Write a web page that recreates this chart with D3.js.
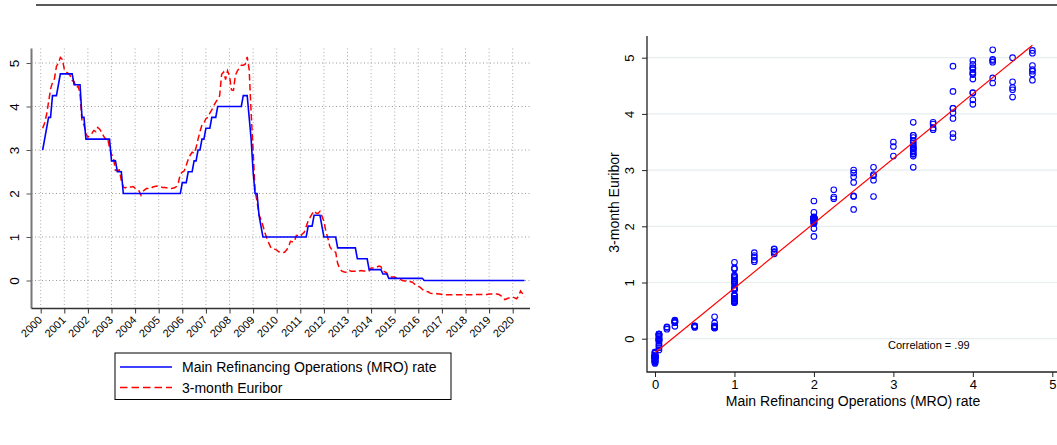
<!DOCTYPE html>
<html>
<head>
<meta charset="utf-8">
<script src="https://cdn.jsdelivr.net/npm/d3@7"></script>
<style>
  body { margin: 0; background: #fff; }
  svg { font-family: "Liberation Sans", Arial, sans-serif; }
</style>
</head>
<body>
<script>
// monthly, end of month, 2000m1 .. 2020m6
var startYear = 2000;

var mro = [
  3.00, 3.25, 3.50, 3.75, 3.75, 4.25, 4.25, 4.25, 4.50, 4.75, 4.75, 4.75, // 2000
  4.75, 4.75, 4.75, 4.75, 4.50, 4.50, 4.50, 4.50, 3.75, 3.75, 3.25, 3.25, // 2001
  3.25, 3.25, 3.25, 3.25, 3.25, 3.25, 3.25, 3.25, 3.25, 3.25, 3.25, 2.75, // 2002
  2.75, 2.75, 2.50, 2.50, 2.50, 2.00, 2.00, 2.00, 2.00, 2.00, 2.00, 2.00, // 2003
  2.00, 2.00, 2.00, 2.00, 2.00, 2.00, 2.00, 2.00, 2.00, 2.00, 2.00, 2.00, // 2004
  2.00, 2.00, 2.00, 2.00, 2.00, 2.00, 2.00, 2.00, 2.00, 2.00, 2.00, 2.25, // 2005
  2.25, 2.25, 2.50, 2.50, 2.50, 2.75, 2.75, 3.00, 3.00, 3.25, 3.25, 3.50, // 2006
  3.50, 3.50, 3.75, 3.75, 3.75, 4.00, 4.00, 4.00, 4.00, 4.00, 4.00, 4.00, // 2007
  4.00, 4.00, 4.00, 4.00, 4.00, 4.00, 4.25, 4.25, 4.25, 3.75, 3.25, 2.50, // 2008
  2.00, 2.00, 1.50, 1.25, 1.00, 1.00, 1.00, 1.00, 1.00, 1.00, 1.00, 1.00, // 2009
  1.00, 1.00, 1.00, 1.00, 1.00, 1.00, 1.00, 1.00, 1.00, 1.00, 1.00, 1.00, // 2010
  1.00, 1.00, 1.00, 1.25, 1.25, 1.25, 1.50, 1.50, 1.50, 1.50, 1.25, 1.00, // 2011
  1.00, 1.00, 1.00, 1.00, 1.00, 1.00, 0.75, 0.75, 0.75, 0.75, 0.75, 0.75, // 2012
  0.75, 0.75, 0.75, 0.75, 0.50, 0.50, 0.50, 0.50, 0.50, 0.50, 0.25, 0.25, // 2013
  0.25, 0.25, 0.25, 0.25, 0.25, 0.15, 0.15, 0.15, 0.05, 0.05, 0.05, 0.05, // 2014
  0.05, 0.05, 0.05, 0.05, 0.05, 0.05, 0.05, 0.05, 0.05, 0.05, 0.05, 0.05, // 2015
  0.05, 0.05, 0.00, 0.00, 0.00, 0.00, 0.00, 0.00, 0.00, 0.00, 0.00, 0.00, // 2016
  0.00, 0.00, 0.00, 0.00, 0.00, 0.00, 0.00, 0.00, 0.00, 0.00, 0.00, 0.00, // 2017
  0.00, 0.00, 0.00, 0.00, 0.00, 0.00, 0.00, 0.00, 0.00, 0.00, 0.00, 0.00, // 2018
  0.00, 0.00, 0.00, 0.00, 0.00, 0.00, 0.00, 0.00, 0.00, 0.00, 0.00, 0.00, // 2019
  0.00, 0.00, 0.00, 0.00, 0.00, 0.00                                      // 2020
];

var euribor = [
  3.50, 3.62, 3.82, 4.10, 4.40, 4.55, 4.64, 4.92, 5.00, 5.13, 5.08, 4.86, // 2000
  4.79, 4.76, 4.71, 4.60, 4.57, 4.43, 4.47, 4.30, 3.65, 3.58, 3.38, 3.29, // 2001
  3.35, 3.38, 3.45, 3.42, 3.52, 3.48, 3.40, 3.32, 3.25, 3.28, 3.05, 2.90, // 2002
  2.82, 2.53, 2.53, 2.54, 2.30, 2.15, 2.13, 2.16, 2.15, 2.15, 2.16, 2.12, // 2003
  2.08, 2.06, 1.96, 2.05, 2.09, 2.12, 2.11, 2.11, 2.15, 2.16, 2.17, 2.16, // 2004
  2.15, 2.14, 2.14, 2.13, 2.12, 2.11, 2.12, 2.13, 2.16, 2.25, 2.45, 2.49, // 2005
  2.52, 2.65, 2.78, 2.88, 2.95, 2.92, 3.05, 3.25, 3.42, 3.58, 3.62, 3.72, // 2006
  3.75, 3.85, 3.92, 4.02, 4.10, 4.17, 4.25, 4.74, 4.79, 4.62, 4.82, 4.70, // 2007
  4.38, 4.37, 4.72, 4.82, 4.88, 4.95, 4.95, 4.97, 5.14, 4.85, 3.85, 3.00, // 2008
  2.06, 1.82, 1.51, 1.40, 1.26, 1.10, 0.97, 0.86, 0.76, 0.72, 0.72, 0.70, // 2009
  0.66, 0.66, 0.64, 0.65, 0.70, 0.77, 0.90, 0.89, 0.89, 1.04, 1.03, 1.01, // 2010
  1.07, 1.11, 1.24, 1.37, 1.45, 1.53, 1.60, 1.55, 1.54, 1.59, 1.48, 1.36, // 2011
  1.13, 0.98, 0.78, 0.71, 0.67, 0.65, 0.39, 0.28, 0.22, 0.20, 0.19, 0.19, // 2012
  0.23, 0.21, 0.21, 0.21, 0.20, 0.22, 0.23, 0.22, 0.22, 0.23, 0.22, 0.29, // 2013
  0.29, 0.29, 0.31, 0.33, 0.32, 0.21, 0.20, 0.17, 0.08, 0.08, 0.08, 0.08, // 2014
  0.05, 0.04, 0.02, 0.00, -0.01, -0.01, -0.03, -0.03, -0.04, -0.08, -0.11, -0.13, // 2015
  -0.16, -0.20, -0.24, -0.25, -0.26, -0.29, -0.30, -0.30, -0.30, -0.31, -0.31, -0.32, // 2016
  -0.33, -0.33, -0.33, -0.33, -0.33, -0.33, -0.33, -0.33, -0.33, -0.33, -0.33, -0.33, // 2017
  -0.33, -0.33, -0.33, -0.33, -0.32, -0.32, -0.32, -0.32, -0.32, -0.32, -0.32, -0.31, // 2018
  -0.31, -0.31, -0.31, -0.31, -0.32, -0.35, -0.37, -0.44, -0.42, -0.40, -0.40, -0.38, // 2019
  -0.40, -0.42, -0.36, -0.24, -0.30, -0.38                                            // 2020
];

var yearTicks = d3.range(2000, 2021);
var rateTicks = [0, 1, 2, 3, 4, 5];
var legendLabels = ["Main Refinancing Operations (MRO) rate", "3-month Euribor"];
var corrLabel = "Correlation = .99";
// fitted line as drawn in the picture: [intercept, slope]
var fitLine = [-0.25, 1.152];

var data = mro.map(function(v, i) {
  return { t: startYear + (i + 1) / 12, mro: v, eur: euribor[i] };
});

var svg = d3.select("body").append("svg")
    .attr("width", 1057)
    .attr("height", 445);

// top rule
svg.append("line")
    .attr("x1", 36).attr("x2", 1057).attr("y1", 5).attr("y2", 5)
    .attr("stroke", "#222").attr("stroke-width", 1.5);

// ****************** left: time series ***************************
var L = { left: 31.5, right: 530, top: 48.5, bottom: 308.5 };

var xT = d3.scaleLinear().domain([2000, 2020]).range([40.7, 512.7]);
var yT = d3.scaleLinear().domain([0, 5]).range([280.5, 63]);

var left = svg.append("g");

// grid
left.selectAll("line.hgrid").data(rateTicks).enter().append("line")
    .attr("x1", L.left).attr("x2", L.right)
    .attr("y1", d => yT(d)).attr("y2", d => yT(d))
    .attr("stroke", "#999").attr("stroke-width", 1)
    .attr("stroke-dasharray", "1,2.5");
left.selectAll("line.vgrid").data(yearTicks).enter().append("line")
    .attr("x1", d => xT(d)).attr("x2", d => xT(d))
    .attr("y1", L.top).attr("y2", L.bottom)
    .attr("stroke", "#aaa").attr("stroke-width", 1)
    .attr("stroke-dasharray", "1,2.5");

// axes
var yAxisL = left.append("g")
    .attr("transform", "translate(" + L.left + ",0)")
    .call(d3.axisLeft(yT).tickValues(rateTicks).tickSize(5).tickFormat(d3.format("d")));
yAxisL.select(".domain").remove();
yAxisL.selectAll("line").attr("stroke", "#555");
yAxisL.selectAll("text")
    .attr("font-size", 13.5).attr("fill", "#000")
    .attr("text-anchor", "middle")
    .attr("transform", "translate(-17,0) rotate(-90)")
    .attr("x", 0).attr("y", 0).attr("dy", "0.35em");
left.append("line")
    .attr("x1", L.left).attr("x2", L.left).attr("y1", L.top).attr("y2", L.bottom)
    .attr("stroke", "#777").attr("stroke-width", 2);

var xAxisL = left.append("g")
    .attr("transform", "translate(0," + L.bottom + ")")
    .call(d3.axisBottom(xT).tickValues(yearTicks).tickSize(5).tickFormat(d3.format("d")));
xAxisL.select(".domain").remove();
xAxisL.selectAll("line").attr("stroke", "#333");
xAxisL.selectAll("text")
    .attr("font-size", 11).attr("fill", "#000")
    .attr("text-anchor", "end")
    .attr("x", 0).attr("y", 0).attr("dy", "0.35em")
    .attr("transform", "translate(-1,9.5) rotate(-45)");
left.append("line")
    .attr("x1", L.left).attr("x2", L.right).attr("y1", L.bottom).attr("y2", L.bottom)
    .attr("stroke", "#333").attr("stroke-width", 1.5);

// series
var lineMro = d3.line().x(d => xT(d.t)).y(d => yT(d.mro));
var lineEur = d3.line().x(d => xT(d.t)).y(d => yT(d.eur));

left.append("path").datum(data)
    .attr("d", lineEur)
    .attr("fill", "none").attr("stroke", "#ff0000").attr("stroke-width", 1.5)
    .attr("stroke-dasharray", "6.5,3.5");
left.append("path").datum(data)
    .attr("d", lineMro)
    .attr("fill", "none").attr("stroke", "#0000ff").attr("stroke-width", 1.6);

// legend
var lg = left.append("g").attr("transform", "translate(115,353)");
lg.append("rect").attr("width", 336).attr("height", 46.5)
    .attr("fill", "#fff").attr("stroke", "#000").attr("stroke-width", 1);
var lgRow = lg.selectAll("g.row").data(legendLabels).enter().append("g")
    .attr("transform", (d, i) => "translate(0," + (14 + i * 20.6) + ")");
lgRow.append("line")
    .attr("x1", 5).attr("x2", 57)
    .attr("stroke", (d, i) => i ? "#ff0000" : "#0000ff")
    .attr("stroke-width", 1.5)
    .attr("stroke-dasharray", (d, i) => i ? "7.5,4" : null);
lgRow.append("text")
    .attr("x", 67).attr("dy", "0.35em")
    .attr("font-size", 14)
    .text(d => d);

// ****************** right: scatter ***************************
var R = { left: 647, right: 1057, top: 36, bottom: 372 };

var xS = d3.scaleLinear().domain([0, 5]).range([655, 1052.3]);
var yS = d3.scaleLinear().domain([0, 5]).range([338.7, 57.7]);

var right = svg.append("g");

right.selectAll("line.grid").data(rateTicks).enter().append("line")
    .attr("x1", R.left).attr("x2", R.right)
    .attr("y1", d => yS(d)).attr("y2", d => yS(d))
    .attr("stroke", "#e6eeef").attr("stroke-width", 1.2);

var yAxisR = right.append("g")
    .attr("transform", "translate(" + R.left + ",0)")
    .call(d3.axisLeft(yS).tickValues(rateTicks).tickSize(5).tickFormat(d3.format("d")));
yAxisR.select(".domain").remove();
yAxisR.selectAll("line").attr("stroke", "#222");
yAxisR.selectAll("text")
    .attr("font-size", 13).attr("fill", "#000")
    .attr("text-anchor", "middle")
    .attr("transform", "translate(-18,0) rotate(-90)")
    .attr("x", 0).attr("y", 0).attr("dy", "0.35em");

var xAxisR = right.append("g")
    .attr("transform", "translate(0," + R.bottom + ")")
    .call(d3.axisBottom(xS).tickValues(rateTicks).tickSize(5).tickFormat(d3.format("d")));
xAxisR.select(".domain").remove();
xAxisR.selectAll("line").attr("stroke", "#222");
xAxisR.selectAll("text").attr("font-size", 13).attr("fill", "#000").attr("y", 8);

right.append("path")
    .attr("d", "M" + R.left + "," + R.top + "V" + R.bottom + "H" + R.right)
    .attr("fill", "none").attr("stroke", "#222").attr("stroke-width", 1.3);

// axis titles
right.append("text")
    .attr("transform", "translate(619," + ((R.top + R.bottom) / 2 - 1.5) + ") rotate(-90)")
    .attr("text-anchor", "middle").attr("font-size", 14)
    .text("3-month Euribor");
right.append("text")
    .attr("x", (R.left + R.right) / 2 + 1).attr("y", 406)
    .attr("text-anchor", "middle").attr("font-size", 14)
    .text("Main Refinancing Operations (MRO) rate");

// points
right.selectAll("circle.pt").data(data).enter().append("circle")
    .attr("cx", d => xS(d.mro)).attr("cy", d => yS(d.eur))
    .attr("r", 2.8)
    .attr("fill", "none").attr("stroke", "#0000ff").attr("stroke-width", 1.1);

// linear fit over the range of x
var xr = d3.extent(data, d => d.mro);
right.append("line")
    .attr("x1", xS(xr[0])).attr("y1", yS(fitLine[0] + fitLine[1] * xr[0]))
    .attr("x2", xS(xr[1])).attr("y2", yS(fitLine[0] + fitLine[1] * xr[1]))
    .attr("stroke", "#ff0000").attr("stroke-width", 1.2);

right.append("text")
    .attr("x", 888).attr("y", 349)
    .attr("font-size", 11)
    .text(corrLabel);
</script>
</body>
</html>
